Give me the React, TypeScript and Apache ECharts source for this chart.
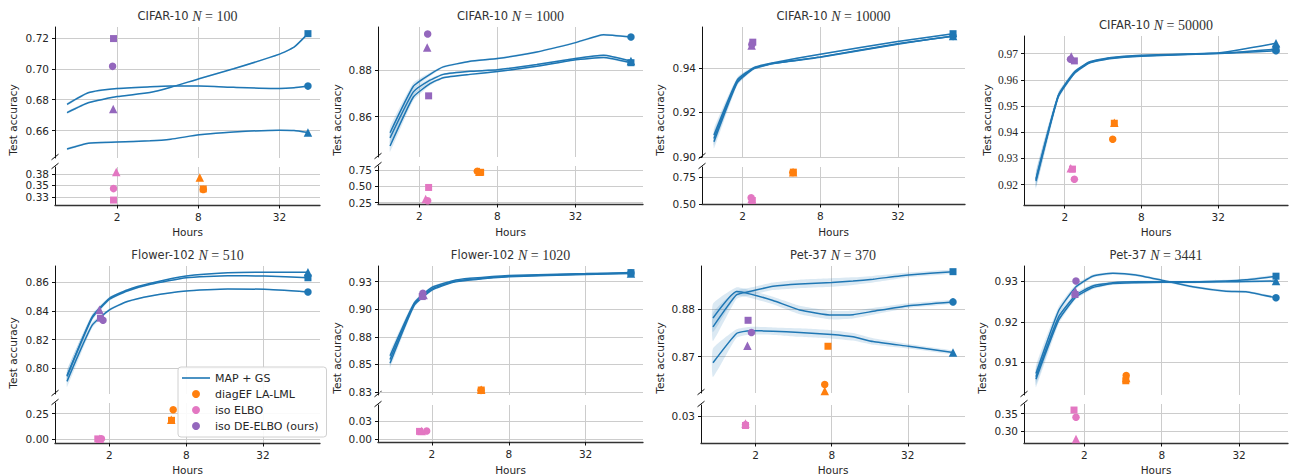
import { useEffect, useRef } from 'react';
import * as echarts from 'echarts';

// colours
const BLUE = '#1f77b4';
const ORANGE = '#ff7f0e';
const PINK = '#e377c2';
const PURPLE = '#9467bd';
const GRID_LINE = '#cccccc';
const INK = '#262626';
const SANS = 'DejaVu Sans';
const SERIF = 'Liberation Serif';

const X_TICK_HOURS = [2, 8, 32];
const METHOD_NAMES = ['diagEF LA-LML', 'iso ELBO', 'iso DE-ELBO (ours)'];
const METHOD_COLORS = [ORANGE, PINK, PURPLE];
const MAP_NAME = 'MAP + GS';
// every triple below is ordered circle, square, triangle
const SHAPES = ['circle', 'rect', 'triangle'];
const SHAPE_SIZES = [7.5, 7, 8.5];

type Pt = [number, number];

// ---------- CIFAR-10, N = 100 ----------
const c100Hours = [0.85, 1.22, 2.0, 3.5, 5.0, 8.1, 14.6, 32, 41, 52];
const c100Circle = [0.677, 0.6845, 0.6872, 0.6883, 0.6888, 0.6888, 0.688, 0.6872, 0.6877, 0.6888];
const c100Square = [0.6716, 0.678, 0.682, 0.6846, 0.688, 0.6936, 0.7, 0.7095, 0.714, 0.7228];
const c100Triangle = [0.648, 0.6518, 0.6525, 0.6533, 0.6544, 0.6572, 0.6591, 0.6602, 0.66, 0.6587];
const c100Spread = [0.0008, 0.0006, 0.0005, 0.0005, 0.0005, 0.0005, 0.0005, 0.0005, 0.0005, 0.0005];
const c100DiagEF: Pt[] = [[8.7, 0.341], [8.7, 0.342], [8.2, 0.367]];
const c100IsoElbo: Pt[] = [[1.88, 0.3428], [1.88, 0.3178], [1.97, 0.3793]];
const c100DeElbo: Pt[] = [[1.85, 0.7016], [1.88, 0.7196], [1.87, 0.674]];
const c100UpperRange = [0.6422, 0.7271];
const c100UpperTicks = [0.66, 0.68, 0.7, 0.72];
const c100LowerRange = [0.307, 0.39];
const c100LowerTicks = [0.325, 0.35, 0.375];

// ---------- CIFAR-10, N = 1000 ----------
const c1kHours = [1.19, 1.8, 2.42, 3.06, 4.92, 8, 16.1, 32, 52.6, 85.6];
const c1kCircle = [0.8531, 0.873, 0.8781, 0.8813, 0.8837, 0.8849, 0.8877, 0.8917, 0.8951, 0.8941];
const c1kSquare = [0.8474, 0.8684, 0.8741, 0.8767, 0.8781, 0.8793, 0.8816, 0.8844, 0.8853, 0.8831];
const c1kTriangle = [0.8509, 0.8706, 0.8756, 0.8781, 0.8794, 0.8801, 0.8823, 0.8849, 0.8863, 0.8838];
const c1kSpread = [0.0025, 0.0015, 0.0008, 0.0005, 0.0004, 0.0004, 0.0004, 0.0004, 0.0004, 0.0004];
const c1kDiagEF: Pt[] = [[5.6, 0.735], [5.94, 0.719], [5.8, 0.728]];
const c1kIsoElbo: Pt[] = [[2.32, 0.28], [2.36, 0.485], [2.24, 0.306]];
const c1kDeElbo: Pt[] = [[2.32, 0.8954], [2.36, 0.8689], [2.3, 0.8896]];
const c1kUpperRange = [0.8427, 0.8984];
const c1kUpperTicks = [0.86, 0.88];
const c1kLowerRange = [0.23, 0.816];
const c1kLowerTicks = [0.25, 0.5, 0.75];

// ---------- CIFAR-10, N = 10000 ----------
const c10kHours = [1.2, 1.82, 2.45, 3.48, 8, 31.8, 85.6];
const c10kCircle = [0.9083, 0.9338, 0.9398, 0.942, 0.9449, 0.9508, 0.9541];
const c10kSquare = [0.9098, 0.9346, 0.9401, 0.9423, 0.9461, 0.9518, 0.9553];
const c10kTriangle = [0.9068, 0.9333, 0.9396, 0.9419, 0.9447, 0.9506, 0.9543];
const c10kSpread = [0.003, 0.0012, 0.0006, 0.0004, 0.0003, 0.0003, 0.0003];
const c10kDiagEF: Pt[] = [[4.9, 0.791], [4.95, 0.794], [4.93, 0.794]];
const c10kIsoElbo: Pt[] = [[2.33, 0.558], [2.38, 0.532], [2.35, 0.545]];
const c10kDeElbo: Pt[] = [[2.36, 0.9505], [2.4, 0.9515], [2.35, 0.95]];
const c10kUpperRange = [0.9, 0.9583];
const c10kUpperTicks = [0.9, 0.92, 0.94];
const c10kLowerRange = [0.5, 0.8415];
const c10kLowerTicks = [0.5, 0.75];

// ---------- CIFAR-10, N = 50000 (single axis) ----------
const c50kHours = [1.19, 1.78, 2.38, 3.12, 4.48, 8, 32.7, 91];
const c50kCircle = [0.9213, 0.9535, 0.9624, 0.9664, 0.968, 0.969, 0.97, 0.9711];
const c50kSquare = [0.9218, 0.9538, 0.9627, 0.9666, 0.9682, 0.9692, 0.9701, 0.9717];
const c50kTriangle = [0.9222, 0.954, 0.963, 0.9668, 0.9684, 0.9694, 0.9703, 0.9739];
const c50kSpread = [0.003, 0.0012, 0.0006, 0.0004, 0.0003, 0.0002, 0.0002, 0.0002];
const c50kDiagEF: Pt[] = [[4.76, 0.9373], [4.9, 0.9434], [4.9, 0.9436]];
const c50kIsoElbo: Pt[] = [[2.38, 0.922], [2.3, 0.9259], [2.23, 0.9262]];
const c50kDeElbo: Pt[] = [[2.22, 0.9678], [2.38, 0.9672], [2.25, 0.9689]];
const c50kRange = [0.9122, 0.9767];
const c50kTicks = [0.92, 0.93, 0.94, 0.95, 0.96, 0.97];

// ---------- Flower-102, N = 510 ----------
const f510Hours = [0.93, 1.46, 2, 2.76, 4.2, 8, 16.9, 32.6, 72];
const f510Circle = [0.7909, 0.8299, 0.8408, 0.8466, 0.8505, 0.854, 0.8554, 0.8551, 0.8533];
const f510Square = [0.7949, 0.835, 0.8482, 0.854, 0.8586, 0.8632, 0.8646, 0.8644, 0.8632];
const f510Triangle = [0.7944, 0.8357, 0.8489, 0.8547, 0.8593, 0.8644, 0.8667, 0.867, 0.867];
const f510Spread = [0.004, 0.002, 0.001, 0.0007, 0.0005, 0.0004, 0.0004, 0.0004, 0.0004];
const f510DiagEF: Pt[] = [[6.32, 0.289], [6.13, 0.185], [6.1, 0.19]];
const f510IsoElbo: Pt[] = [[1.73, 0.006], [1.62, 0.004], [1.68, 0.005]];
const f510DeElbo: Pt[] = [[1.78, 0.8335], [1.7, 0.835], [1.67, 0.8408]];
const f510UpperRange = [0.7821, 0.8714];
const f510UpperTicks = [0.8, 0.82, 0.84, 0.86];
const f510LowerRange = [-0.036, 0.354];
const f510LowerTicks = [0, 0.25];

// ---------- Flower-102, N = 1020 ----------
const f1020Hours = [0.94, 1.46, 2, 2.93, 3.96, 8, 32, 72.5];
const f1020Circle = [0.8545, 0.905, 0.9185, 0.925, 0.927, 0.93, 0.932, 0.9328];
const f1020Square = [0.8579, 0.906, 0.9199, 0.9259, 0.928, 0.9307, 0.9323, 0.9332];
const f1020Triangle = [0.851, 0.9039, 0.9174, 0.9244, 0.9265, 0.9295, 0.9316, 0.9323];
const f1020Spread = [0.004, 0.002, 0.001, 0.0006, 0.0005, 0.0004, 0.0004, 0.0004];
const f1020DiagEF: Pt[] = [[4.85, 0.8265], [4.87, 0.8268], [4.87, 0.827]];
const f1020IsoElbo: Pt[] = [[1.82, 0.011], [1.6, 0.0105], [1.66, 0.011]];
const f1020DeElbo: Pt[] = [[1.7, 0.9145], [1.68, 0.9115], [1.72, 0.913]];
const f1020UpperRange = [0.8223, 0.9392];
const f1020UpperTicks = [0.825, 0.85, 0.875, 0.9, 0.925];
const f1020UpperLabels = ['0.83', '0.85', '0.88', '0.90', '0.93'];
const f1020LowerRange = [-0.0041, 0.0468];
const f1020LowerTicks = [0, 0.025];

// ---------- Pet-37, N = 370 ----------
const p370Hours = [0.918, 1.41, 1.79, 2.74, 4.46, 8, 11.8, 17, 32.4, 73];
const p370Circle = [0.8782, 0.8838, 0.8833, 0.8819, 0.8799, 0.8788, 0.8789, 0.8796, 0.8808, 0.8816];
const p370Square = [0.8763, 0.8831, 0.8838, 0.8849, 0.8854, 0.8857, 0.886, 0.8864, 0.8873, 0.888];
const p370Triangle = [0.8687, 0.8749, 0.8755, 0.8754, 0.8751, 0.8747, 0.8742, 0.8732, 0.8722, 0.8709];
const p370Spread = [0.003, 0.0009, 0.0008, 0.0008, 0.0009, 0.0009, 0.0008, 0.0007, 0.0005, 0.0004];
const p370DiagEF: Pt[] = [[7.04, 0.8641], [7.47, 0.8722], [7.04, 0.8627]];
const p370IsoElbo: Pt[] = [[1.66, 0.0267], [1.66, 0.0264], [1.66, 0.0272]];
const p370DeElbo: Pt[] = [[1.85, 0.8751], [1.74, 0.8777], [1.72, 0.8723]];
const p370UpperRange = [0.8623, 0.8892];
const p370UpperTicks = [0.87, 0.88];
const p370LowerRange = [0.0195, 0.0345];
const p370LowerTicks = [0.03];

// ---------- Pet-37, N = 3441 ----------
const p3441Hours = [0.84, 1.26, 1.72, 2.32, 3.33, 5.05, 8, 13.9, 25.3, 36.2, 62];
const p3441Circle = [0.9073, 0.9227, 0.9286, 0.9312, 0.9319, 0.9315, 0.9302, 0.9286, 0.9275, 0.9274, 0.9259];
const p3441Square = [0.9065, 0.9212, 0.9266, 0.9288, 0.9296, 0.9298, 0.9298, 0.9298, 0.93, 0.9303, 0.9312];
const p3441Triangle = [0.9059, 0.9204, 0.9261, 0.9284, 0.9294, 0.9296, 0.9297, 0.9297, 0.9298, 0.9299, 0.93];
const p3441Spread = [0.002, 0.001, 0.0006, 0.0004, 0.0003, 0.0003, 0.0003, 0.0003, 0.0003, 0.0003, 0.0003];
const p3441DiagEF: Pt[] = [[4.23, 0.9068], [4.2, 0.9055], [4.23, 0.9062]];
const p3441IsoElbo: Pt[] = [[1.72, 0.3398], [1.66, 0.36], [1.72, 0.2787]];
const p3441DeElbo: Pt[] = [[1.72, 0.93], [1.69, 0.9267], [1.7, 0.9275]];
const p3441UpperRange = [0.902, 0.9337];
const p3441UpperTicks = [0.91, 0.92, 0.93];
const p3441LowerRange = [0.2676, 0.3769];
const p3441LowerTicks = [0.3, 0.35];

interface AxisPart {
  range: number[];
  ticks: number[];
  labels?: string[];
}

interface Box {
  left: number;
  width: number;
  top: number;
  upperBottom: number;
  lowerTop?: number;
  bottom: number;
  titleY: number;
  yTitleX: number;
  yTitleY: number;
  hoursY: number;
}

interface Panel {
  title: string;
  n: number;
  hours: number[];
  curves: number[][];
  spread: number[];
  methods: Pt[][];
  upper: AxisPart;
  lower?: AxisPart;
  box: Box;
  serifTicks?: boolean;
}

const PANELS: Panel[] = [
  {
    title: 'CIFAR-10', n: 100, hours: c100Hours,
    curves: [c100Circle, c100Square, c100Triangle], spread: c100Spread,
    methods: [c100DiagEF, c100IsoElbo, c100DeElbo],
    upper: { range: c100UpperRange, ticks: c100UpperTicks },
    lower: { range: c100LowerRange, ticks: c100LowerTicks },
    box: { left: 55, width: 265, top: 27, upperBottom: 158, lowerTop: 167, bottom: 205, titleY: 16, yTitleX: 13, yTitleY: 120, hoursY: 232 },
  },
  {
    title: 'CIFAR-10', n: 1000, hours: c1kHours,
    curves: [c1kCircle, c1kSquare, c1kTriangle], spread: c1kSpread,
    methods: [c1kDiagEF, c1kIsoElbo, c1kDeElbo],
    upper: { range: c1kUpperRange, ticks: c1kUpperTicks },
    lower: { range: c1kLowerRange, ticks: c1kLowerTicks },
    box: { left: 378, width: 265, top: 27, upperBottom: 157, lowerTop: 166, bottom: 204, titleY: 16, yTitleX: 337, yTitleY: 120, hoursY: 232 },
  },
  {
    title: 'CIFAR-10', n: 10000, hours: c10kHours,
    curves: [c10kCircle, c10kSquare, c10kTriangle], spread: c10kSpread,
    methods: [c10kDiagEF, c10kIsoElbo, c10kDeElbo],
    upper: { range: c10kUpperRange, ticks: c10kUpperTicks },
    lower: { range: c10kLowerRange, ticks: c10kLowerTicks },
    box: { left: 702, width: 263, top: 27, upperBottom: 157, lowerTop: 167, bottom: 204, titleY: 16, yTitleX: 660, yTitleY: 120, hoursY: 232 },
  },
  {
    title: 'CIFAR-10', n: 50000, hours: c50kHours,
    curves: [c50kCircle, c50kSquare, c50kTriangle], spread: c50kSpread,
    methods: [c50kDiagEF, c50kIsoElbo, c50kDeElbo],
    upper: { range: c50kRange, ticks: c50kTicks },
    box: { left: 1024, width: 264, top: 36, upperBottom: 205, bottom: 205, titleY: 25, yTitleX: 987, yTitleY: 120, hoursY: 232 },
    serifTicks: true,
  },
  {
    title: 'Flower-102', n: 510, hours: f510Hours,
    curves: [f510Circle, f510Square, f510Triangle], spread: f510Spread,
    methods: [f510DiagEF, f510IsoElbo, f510DeElbo],
    upper: { range: f510UpperRange, ticks: f510UpperTicks },
    lower: { range: f510LowerRange, ticks: f510LowerTicks },
    box: { left: 55, width: 265, top: 266, upperBottom: 394, lowerTop: 403, bottom: 443, titleY: 255, yTitleX: 13, yTitleY: 353, hoursY: 470 },
  },
  {
    title: 'Flower-102', n: 1020, hours: f1020Hours,
    curves: [f1020Circle, f1020Square, f1020Triangle], spread: f1020Spread,
    methods: [f1020DiagEF, f1020IsoElbo, f1020DeElbo],
    upper: { range: f1020UpperRange, ticks: f1020UpperTicks, labels: f1020UpperLabels },
    lower: { range: f1020LowerRange, ticks: f1020LowerTicks },
    box: { left: 378, width: 265, top: 266, upperBottom: 395, lowerTop: 405, bottom: 442, titleY: 255, yTitleX: 337, yTitleY: 358, hoursY: 470 },
  },
  {
    title: 'Pet-37', n: 370, hours: p370Hours,
    curves: [p370Circle, p370Square, p370Triangle], spread: p370Spread,
    methods: [p370DiagEF, p370IsoElbo, p370DeElbo],
    upper: { range: p370UpperRange, ticks: p370UpperTicks },
    lower: { range: p370LowerRange, ticks: p370LowerTicks },
    box: { left: 701, width: 264, top: 266, upperBottom: 393, lowerTop: 405, bottom: 443, titleY: 255, yTitleX: 660, yTitleY: 358, hoursY: 470 },
  },
  {
    title: 'Pet-37', n: 3441, hours: p3441Hours,
    curves: [p3441Circle, p3441Square, p3441Triangle], spread: p3441Spread,
    methods: [p3441DiagEF, p3441IsoElbo, p3441DeElbo],
    upper: { range: p3441UpperRange, ticks: p3441UpperTicks },
    lower: { range: p3441LowerRange, ticks: p3441LowerTicks },
    box: { left: 1024, width: 264, top: 266, upperBottom: 395, lowerTop: 404, bottom: 443, titleY: 255, yTitleX: 982, yTitleY: 358, hoursY: 470 },
  },
];

const log2 = (h: number) => Math.log2(h);
const SMOOTH = 0.15;

function buildOption() {
  const grid: any[] = [];
  const xAxis: any[] = [];
  const yAxis: any[] = [];
  const series: any[] = [];
  const graphic: any[] = [];
  const xTicks = X_TICK_HOURS.map(log2);

  PANELS.forEach((p) => {
    const b = p.box;
    // x extent in log2 hours with a 5% margin around all plotted times
    const allHours = [...p.hours, ...p.methods.flat().map((q) => q[0])];
    const lo = Math.min(...allHours.map(log2));
    const hi = Math.max(...allHours.map(log2));
    const pad = (hi - lo) * 0.05;
    const xMin = lo - pad;
    const xMax = hi + pad;
    const tickFont = p.serifTicks ? SERIF : SANS;
    const tickSize = p.serifTicks ? 11.5 : 10.5;

    const addGrid = (top: number, bottom: number, axis: AxisPart, showX: boolean) => {
      const gi = grid.length;
      grid.push({ left: b.left, top, width: b.width, height: bottom - top, containLabel: false });
      xAxis.push({
        type: 'value', gridIndex: gi, min: xMin, max: xMax,
        axisLine: { show: showX, onZero: false, lineStyle: { color: '#333', width: 1.3 } },
        axisTick: { show: showX, length: 3.5, customValues: xTicks, lineStyle: { color: '#111' } },
        axisLabel: {
          show: showX, customValues: xTicks, margin: 6,
          formatter: (v: number) => String(Math.round(Math.pow(2, v))),
          fontFamily: SANS, fontSize: 10.5, color: INK,
        },
        splitLine: { show: true, lineStyle: { color: GRID_LINE, width: 1 } },
      });
      yAxis.push({
        type: 'value', gridIndex: gi, min: axis.range[0], max: axis.range[1],
        axisLine: { show: true, onZero: false, lineStyle: { color: '#111', width: 1 } },
        axisTick: { show: true, length: 3, customValues: axis.ticks, lineStyle: { color: '#111' } },
        axisLabel: {
          customValues: axis.ticks, margin: 6,
          formatter: (v: number) => {
            const i = axis.ticks.findIndex((t) => Math.abs(t - v) < 1e-9);
            return axis.labels && i >= 0 ? axis.labels[i] : v.toFixed(2);
          },
          fontFamily: tickFont, fontSize: tickSize, color: INK,
        },
        splitLine: { show: true, lineStyle: { color: GRID_LINE, width: 1 } },
      });
      return gi;
    };

    const upperGi = addGrid(b.top, b.upperBottom, p.upper, !p.lower);
    const lowerGi = p.lower ? addGrid(b.lowerTop as number, b.bottom, p.lower, true) : -1;

    // MAP + GS curves with their spread bands
    p.curves.forEach((vals) => {
      const hours = p.hours;
      const spread = p.spread;
      series.push({
        type: 'custom', name: 'spread', coordinateSystem: 'cartesian2d',
        xAxisIndex: upperGi, yAxisIndex: upperGi, clip: true, silent: true, z: 1,
        data: [[log2(hours[0]), vals[0]]],
        renderItem: (_params: any, api: any) => {
          const top = hours.map((h, i) => api.coord([log2(h), vals[i] + spread[i]]));
          const bottom = hours.map((h, i) => api.coord([log2(h), vals[i] - spread[i]])).reverse();
          return {
            type: 'polygon',
            shape: { points: [...top, ...bottom], smooth: SMOOTH },
            style: { fill: 'rgba(31,119,180,0.16)', stroke: 'none' },
          };
        },
      });
      series.push({
        type: 'line', name: MAP_NAME, xAxisIndex: upperGi, yAxisIndex: upperGi,
        data: hours.map((h, i) => [log2(h), vals[i]]),
        symbol: 'none', smooth: SMOOTH, lineStyle: { color: BLUE, width: 1.5 },
        itemStyle: { color: BLUE }, silent: true, z: 3,
      });
    });
    // end-of-run markers
    const last = p.hours.length - 1;
    series.push({
      type: 'scatter', name: MAP_NAME + ' final', xAxisIndex: upperGi, yAxisIndex: upperGi,
      data: p.curves.map((vals, ci) => ({
        value: [log2(p.hours[last]), vals[last]], symbol: SHAPES[ci], symbolSize: SHAPE_SIZES[ci],
      })),
      itemStyle: { color: BLUE, opacity: 1 }, silent: true, z: 4,
    });

    // competing methods, each point placed on the upper or lower axis
    p.methods.forEach((pts, mi) => {
      const up: any[] = [];
      const down: any[] = [];
      pts.forEach((q, si) => {
        const item = { value: [log2(q[0]), q[1]], symbol: SHAPES[si], symbolSize: SHAPE_SIZES[si] };
        if (!p.lower || q[1] >= p.upper.range[0]) up.push(item);
        else down.push(item);
      });
      const common = {
        type: 'scatter', name: METHOD_NAMES[mi], symbol: 'circle',
        itemStyle: { color: METHOD_COLORS[mi], opacity: 1 }, silent: true, z: 5,
      };
      if (up.length) series.push({ ...common, xAxisIndex: upperGi, yAxisIndex: upperGi, data: up });
      if (down.length) series.push({ ...common, xAxisIndex: lowerGi, yAxisIndex: lowerGi, data: down });
    });

    const cx = b.left + b.width / 2;
    graphic.push({
      type: 'text', x: cx, y: b.titleY, silent: true,
      style: {
        text: `{a|${p.title} }{b|N}{c| = ${p.n}}`,
        align: 'center', verticalAlign: 'middle',
        fontWeight: 'normal',
        rich: {
          a: { fontFamily: SANS, fontSize: 11.5, fontWeight: 'normal', fill: '#333' },
          b: { fontFamily: SERIF, fontSize: 14, fontStyle: 'italic', fontWeight: 'normal', fill: '#333' },
          c: { fontFamily: SERIF, fontSize: 14, fontWeight: 'normal', fill: '#333' },
        },
      },
    });
    graphic.push({
      type: 'text', x: b.yTitleX, y: b.yTitleY, rotation: Math.PI / 2, silent: true,
      style: { text: 'Test accuracy', fontFamily: SANS, fontSize: 10.5, fill: INK, align: 'center', verticalAlign: 'middle' },
    });
    graphic.push({
      type: 'text', x: cx, y: b.hoursY, silent: true,
      style: { text: 'Hours', fontFamily: SANS, fontSize: 10.5, fill: INK, align: 'center', verticalAlign: 'middle' },
    });
    if (p.lower) {
      [b.upperBottom - 1, (b.lowerTop as number) - 1].forEach((yc) => {
        graphic.push({
          type: 'line', silent: true,
          shape: { x1: b.left - 3.5, y1: yc + 2.8, x2: b.left + 3.5, y2: yc - 2.8 },
          style: { stroke: '#111', lineWidth: 1 },
        });
      });
    }
  });

  return {
    animation: false,
    backgroundColor: '#ffffff',
    grid, xAxis, yAxis, series, graphic,
    legend: {
      left: 178, top: 367, orient: 'vertical',
      data: [
        { name: MAP_NAME, icon: 'path://M0,0H28V1.6H0Z' },
        { name: METHOD_NAMES[0], icon: 'circle' },
        { name: METHOD_NAMES[1], icon: 'circle' },
        { name: METHOD_NAMES[2], icon: 'circle' },
      ],
      itemWidth: 28, itemHeight: 8, itemGap: 2,
      padding: [4, 8, 4, 4],
      backgroundColor: 'rgba(255,255,255,0.9)',
      borderColor: '#d0d0d0', borderWidth: 1, borderRadius: 3,
      textStyle: { fontFamily: SANS, fontSize: 11, color: INK, lineHeight: 14 },
      selectedMode: false,
      z: 10,
    },
  };
}

export default function App() {
  const ref = useRef<HTMLDivElement>(null);
  useEffect(() => {
    if (!ref.current) return;
    const chart = echarts.init(ref.current, undefined, { renderer: 'svg' });
    chart.setOption(buildOption() as any);
    return () => chart.dispose();
  }, []);
  return (
    <div
      ref={ref}
      style={{ position: 'fixed', left: 0, top: 0, width: 1294, height: 476, background: '#fff' }}
    />
  );
}
